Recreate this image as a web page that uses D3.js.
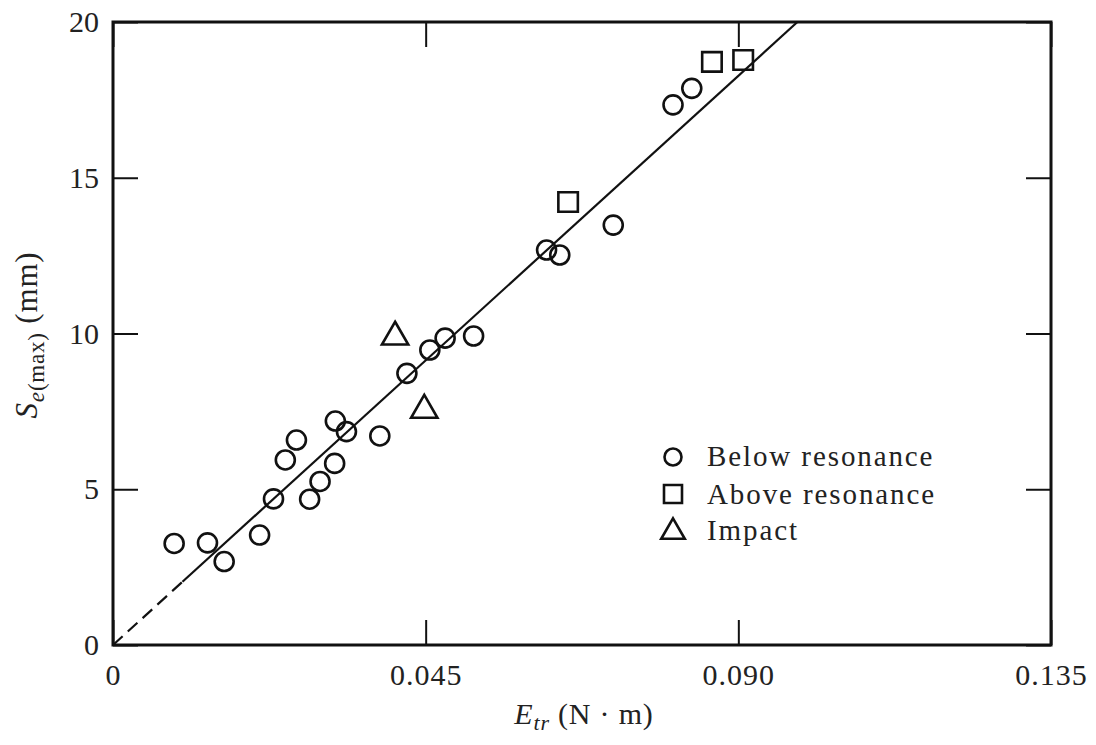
<!DOCTYPE html>
<html>
<head>
<meta charset="utf-8">
<script src="https://cdn.jsdelivr.net/npm/d3@7"></script>
<style>
  body { margin: 0; background: #fff; }
  svg text { font-family: "Liberation Serif", "Times New Roman", serif; fill: #222; }
</style>
</head>
<body>
<div id="chart"></div>
<script>
// data
const belowE = [0.0088, 0.0136, 0.0160, 0.0211, 0.0231, 0.0248, 0.0264, 0.0283, 0.0298, 0.0319,
                0.0320, 0.0336, 0.0384, 0.0423, 0.0456, 0.0478, 0.0519, 0.0624, 0.0643, 0.0720,
                0.0806, 0.0833];
const belowS = [3.26, 3.28, 2.68, 3.53, 4.69, 5.94, 6.58, 4.68, 5.25, 5.83,
                7.19, 6.85, 6.71, 8.72, 9.47, 9.85, 9.92, 12.68, 12.52, 13.48,
                17.34, 17.87];
const aboveE = [0.0655, 0.0862, 0.0907];
const aboveS = [14.22, 18.72, 18.78];
const impactE = [0.0406, 0.0448];
const impactS = [9.89, 7.54];
// fitted line through origin: dashed part then solid part
const fitE = [0, 0.0100, 0.0985];
const fitS = [0, 2.03, 20];

const xTicks = [0, 0.045, 0.090, 0.135];
const yTicks = [0, 5, 10, 15, 20];
const legendNames = ["Below resonance", "Above resonance", "Impact"];

const W = 1096, H = 745;
const m = {top: 22, right: 45, bottom: 100, left: 113};

const svg = d3.select("#chart").append("svg")
    .attr("width", W)
    .attr("height", H);

const x = d3.scaleLinear().domain([0, 0.135]).range([m.left, W - m.right]);
const y = d3.scaleLinear().domain([0, 20]).range([H - m.bottom, m.top]);

const tickLen = 25;

// axes, ticks point inward
const fmtX = d => d === 0 ? "0" : d3.format(".3f")(d);

const xAxis = svg.append("g")
    .attr("transform", "translate(0," + y(0) + ")")
    .call(d3.axisBottom(x).tickValues(xTicks).tickSizeInner(-tickLen).tickSizeOuter(0)
        .tickPadding(19).tickFormat(fmtX));

const xTop = svg.append("g")
    .attr("transform", "translate(0," + y(20) + ")")
    .call(d3.axisTop(x).tickValues(xTicks).tickSizeInner(-tickLen).tickSizeOuter(0)
        .tickFormat(""));

const yAxis = svg.append("g")
    .attr("transform", "translate(" + x(0) + ",0)")
    .call(d3.axisLeft(y).tickValues(yTicks).tickSizeInner(-tickLen).tickSizeOuter(0)
        .tickPadding(14));

const yRight = svg.append("g")
    .attr("transform", "translate(" + x(0.135) + ",0)")
    .call(d3.axisRight(y).tickValues(yTicks).tickSizeInner(-tickLen).tickSizeOuter(0)
        .tickFormat(""));

[xAxis, xTop, yAxis, yRight].forEach(g => {
    g.select(".domain").remove();
    g.selectAll(".tick line").attr("stroke", "#111").attr("stroke-width", 2);
    g.selectAll("text")
        .attr("font-family", "Liberation Serif, serif")
        .attr("font-size", 30)
        .attr("fill", "#222");
});
xAxis.selectAll("text").attr("letter-spacing", 1);

// frame
svg.append("rect")
    .attr("x", x(0))
    .attr("y", y(20))
    .attr("width", x(0.135) - x(0))
    .attr("height", y(0) - y(20))
    .attr("fill", "none")
    .attr("stroke", "#111")
    .attr("stroke-width", 3);

// fit line
const line = d3.line().x(d => x(d[0])).y(d => y(d[1]));
svg.append("path")
    .attr("d", line([[fitE[0], fitS[0]], [fitE[1], fitS[1]]]))
    .attr("fill", "none")
    .attr("stroke", "#111")
    .attr("stroke-width", 2.2)
    .attr("stroke-dasharray", "13,7");
svg.append("path")
    .attr("d", line([[fitE[1], fitS[1]], [fitE[2], fitS[2]]]))
    .attr("fill", "none")
    .attr("stroke", "#111")
    .attr("stroke-width", 2.2);

// markers
const circleSym = d3.symbol().type(d3.symbolCircle).size(Math.PI * 9.5 * 9.5);
const squareSym = d3.symbol().type(d3.symbolSquare).size(19.5 * 19.5);
const triSym = d3.symbol().type(d3.symbolTriangle).size(300);

function drawPoints(es, ss, sym, cls) {
    svg.append("g").selectAll("path." + cls)
        .data(es.map((e, i) => [e, ss[i]]))
        .enter()
        .append("path")
        .attr("class", cls)
        .attr("transform", d => "translate(" + x(d[0]) + "," + y(d[1]) + ")")
        .attr("d", sym)
        .attr("fill", "none")
        .attr("stroke", "#111")
        .attr("stroke-width", 2.6);
}
drawPoints(belowE, belowS, circleSym, "below");
drawPoints(aboveE, aboveS, squareSym, "above");
drawPoints(impactE, impactS, triSym, "impact");

// legend
const legend = svg.append("g").attr("transform", "translate(673,0)");
const legSyms = [
    d3.symbol().type(d3.symbolCircle).size(Math.PI * 8.5 * 8.5),
    d3.symbol().type(d3.symbolSquare).size(18 * 18),
    d3.symbol().type(d3.symbolTriangle).size(240)
];
const legY = [457, 494, 532];
const legBase = [466, 504, 540];
legendNames.forEach((name, i) => {
    legend.append("path")
        .attr("transform", "translate(0," + legY[i] + ")")
        .attr("d", legSyms[i])
        .attr("fill", "none")
        .attr("stroke", "#111")
        .attr("stroke-width", 2.6);
    legend.append("text")
        .attr("x", 34)
        .attr("y", legBase[i])
        .attr("font-size", 29)
        .attr("letter-spacing", 1.9)
        .text(name);
});

// x axis title
const xt = svg.append("text")
    .attr("x", 584)
    .attr("y", 724)
    .attr("text-anchor", "middle")
    .attr("font-size", 30)
    .attr("letter-spacing", 0.8);
xt.append("tspan").attr("font-style", "italic").text("E");
xt.append("tspan").attr("font-style", "italic").attr("font-size", 22).attr("dy", 6).text("tr");
xt.append("tspan").attr("dy", -6).text(" (N · m)");

// y axis title
const yt = svg.append("text")
    .attr("transform", "translate(37,335) rotate(-90)")
    .attr("text-anchor", "middle")
    .attr("font-size", 31)
    .attr("letter-spacing", 0.8);
yt.append("tspan").attr("font-style", "italic").text("S");
yt.append("tspan").attr("font-style", "italic").attr("font-size", 23).attr("dy", 7).text("e");
yt.append("tspan").attr("font-size", 23).text("(max)");
yt.append("tspan").attr("dy", -7).text(" (mm)");
</script>
</body>
</html>
